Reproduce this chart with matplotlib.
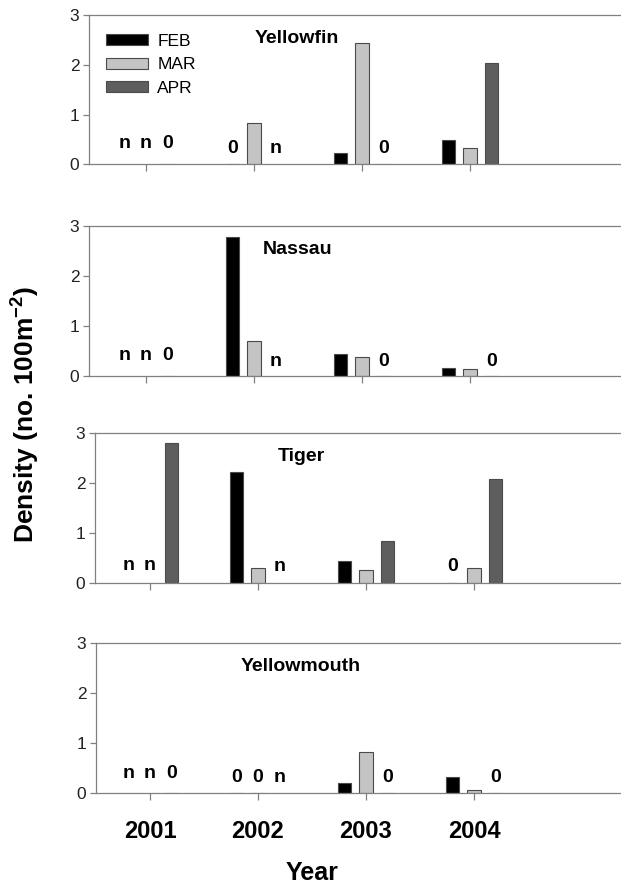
import numpy as np
import matplotlib
matplotlib.use("Agg")
import matplotlib.pyplot as plt

plt.rcParams['font.family'] = ['Liberation Sans', 'DejaVu Sans']
plt.rcParams['mathtext.fontset'] = 'custom'
plt.rcParams['mathtext.rm'] = 'Liberation Sans'
plt.rcParams['mathtext.bf'] = 'Liberation Sans:bold'

years = ['2001', '2002', '2003', '2004']
months = ['FEB', 'MAR', 'APR']
species = ['Yellowfin', 'Nassau', 'Tiger', 'Yellowmouth']

# densities per month, one value per year (nan = not sampled "n", 0 = none caught "0")
yellowfin_feb = [np.nan, 0.0, 0.22, 0.49]
yellowfin_mar = [np.nan, 0.82, 2.44, 0.33]
yellowfin_apr = [0.0, np.nan, 0.0, 2.03]

nassau_feb = [np.nan, 2.78, 0.43, 0.15]
nassau_mar = [np.nan, 0.70, 0.37, 0.13]
nassau_apr = [0.0, np.nan, 0.0, 0.0]

tiger_feb = [np.nan, 2.22, 0.43, 0.0]
tiger_mar = [np.nan, 0.29, 0.26, 0.29]
tiger_apr = [2.79, np.nan, 0.84, 2.07]

yellowmouth_feb = [np.nan, 0.0, 0.21, 0.32]
yellowmouth_mar = [np.nan, 0.0, 0.83, 0.07]
yellowmouth_apr = [0.0, np.nan, 0.0, 0.0]

panels = [
    [yellowfin_feb, yellowfin_mar, yellowfin_apr],
    [nassau_feb, nassau_mar, nassau_apr],
    [tiger_feb, tiger_mar, tiger_apr],
    [yellowmouth_feb, yellowmouth_mar, yellowmouth_apr],
]

colors = ['#000000', '#c4c4c4', '#5e5e5e']
offsets = [-0.2, 0.0, 0.2]
bar_w = 0.125

W, H = 621, 886
# panel frames in pixels: left spine x, x of first tick, y of value 3, y of value 0
frames = [(89, 146, 15, 164.3), (89, 146, 225.7, 376), (95, 150, 432.7, 583), (96, 150, 642.7, 793.3)]
# heights of the n / 0 labels: first group (2001) and the rest
label_y = [(0.41, 0.32), (0.41, 0.28), (0.35, 0.33), (0.40, 0.32)]
px_per_unit = 108.0

fig = plt.figure(figsize=(W / 100, H / 100), dpi=100)
spine_c = '#808080'

for i, (name, vals) in enumerate(zip(species, panels)):
    left, t0, top, bot = frames[i]
    ax = fig.add_axes([left / W, 1 - bot / H, (W - left) / W, (bot - top) / H])
    x = np.arange(len(years))
    for m in range(3):
        ax.bar(x + offsets[m], vals[m], width=bar_w, color=colors[m],
               edgecolor='#4a4a4a', linewidth=0.8, label=months[m], zorder=2)
        for j in range(len(years)):
            v = vals[m][j]
            if np.isnan(v) or v == 0:
                txt = 'n' if np.isnan(v) else '0'
                yy = label_y[i][0] if j == 0 else label_y[i][1]
                ax.text(x[j] + offsets[m], yy, txt, ha='center', va='center',
                        fontsize=14, fontweight='bold')
    ax.set_xlim((left - t0) / px_per_unit, (W - t0) / px_per_unit)
    ax.set_ylim(0, 3)
    ax.set_yticks([0, 1, 2, 3])
    ax.set_xticks(x)
    ax.tick_params(axis='y', direction='out', length=4, width=0.9, color=spine_c,
                   labelsize=12.5, pad=3, labelcolor='#222222')
    ax.tick_params(axis='x', direction='out', length=5, width=0.9, color=spine_c)
    if i == 3:
        ax.set_xticklabels(years, fontsize=17, fontweight='bold')
        ax.tick_params(axis='x', pad=14)
    else:
        ax.set_xticklabels([])
    for s in ['top', 'left', 'bottom']:
        ax.spines[s].set_color(spine_c)
        ax.spines[s].set_linewidth(0.9)
    ax.spines['right'].set_visible(False)
    ax.text(1.4, 2.52, name, ha='center', va='center', fontsize=14, fontweight='bold')
    if i == 0:
        ax.legend(loc='upper left', bbox_to_anchor=(0.032, 0.875), frameon=False,
                  fontsize=12.5, handlelength=2.4, handleheight=0.6,
                  handletextpad=0.55, labelspacing=0.5, borderpad=0, borderaxespad=0)

fig.text(312 / W, 1 - 873 / H, 'Year', ha='center', va='center', fontsize=18, fontweight='bold')
fig.text(25 / W, 1 - 414 / H, r'Density (no. 100m$^{\mathbf{-2}}$)', rotation=90,
         ha='center', va='center', fontsize=19, fontweight='bold')

fig.savefig('out.png', dpi=100)
